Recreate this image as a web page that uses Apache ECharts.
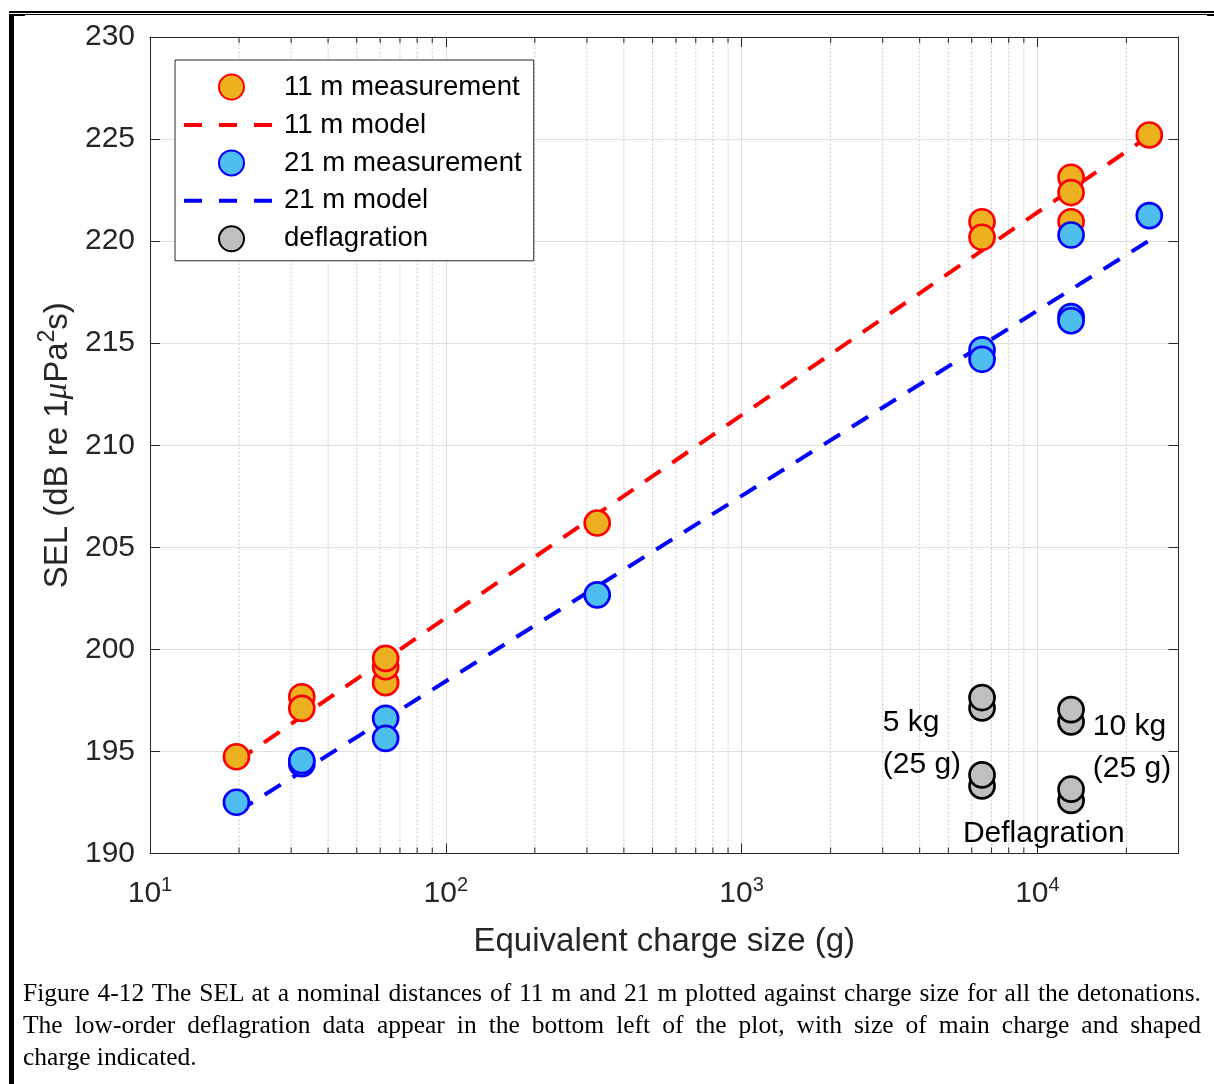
<!DOCTYPE html>
<html>
<head>
<meta charset="utf-8">
<script src="https://cdn.jsdelivr.net/npm/echarts@6/dist/echarts.min.js"></script>
<style>
  html, body { margin: 0; padding: 0; background: #fff; }
  #wrap { position: relative; width: 1214px; height: 1084px; overflow: hidden; background: #fff; }
  #chart { position: absolute; left: 0; top: 0; width: 1214px; height: 1084px; }
  .rule { position: absolute; background: #000; }
  #caption { position: absolute; left: 23px; top: 977px; width: 1178px;
    font-family: 'Liberation Serif', 'Times New Roman', serif; font-size: 25.5px;
    line-height: 32px; color: #000; }
  #caption div { text-align: justify; text-align-last: justify; }
  #caption div.last { text-align-last: left; }
</style>
</head>
<body>
<div id="wrap">
  <div id="chart"></div>
  <!-- page frame -->
  <div class="rule" style="left:9px;top:11px;width:1205px;height:2px;"></div>
  <div class="rule" style="left:9px;top:14px;width:1205px;height:1px;"></div>
  <div class="rule" style="left:9px;top:14px;width:5px;height:1070px;"></div>
  <div class="rule" style="left:14px;top:14px;width:11px;height:2px;"></div>
  <div class="rule" style="left:1207px;top:14px;width:7px;height:2px;"></div>
  <div id="caption">
    <div>Figure 4-12 The SEL at a nominal distances of 11 m and 21 m plotted against charge size for all the detonations.</div>
    <div>The low-order deflagration data appear in the bottom left of the plot, with size of main charge and shaped</div>
    <div class="last">charge indicated.</div>
  </div>
</div>
<script>
// Axis ranges
const X_MIN = 10, X_MAX = 30000;
const Y_MIN = 190, Y_MAX = 230, Y_STEP = 5;

// 11 m measurements: equivalent charge (g) and SEL (dB re 1 uPa^2 s)
const charge11 = [19.6, 32.6, 32.6, 62.6, 62.6, 62.6, 325, 6500, 6500, 13000, 13000, 13000, 23900];
const sel11    = [194.74, 197.68, 197.11, 198.37, 199.15, 199.56, 206.19, 220.95, 220.19, 220.95, 223.13, 222.38, 225.2];

// 21 m measurements
const charge21 = [19.6, 32.6, 32.6, 62.6, 62.6, 325, 6500, 6500, 13000, 13000, 13000, 23900];
const sel21    = [192.51, 194.4, 194.55, 196.62, 195.64, 202.67, 214.67, 214.21, 216.3, 216.1, 220.3, 221.25];

// Low-order deflagrations
const chargeDefl = [6500, 6500, 6500, 6500, 13000, 13000, 13000, 13000];
const selDefl    = [193.31, 193.85, 197.13, 197.64, 192.6, 193.15, 196.45, 197.05];

// Model lines (end points)
const modelCharge = [19.64, 23900];
const model11     = [194.52, 225.16];
const model21     = [192.02, 220.03];

// Minor log ticks (2..9 per decade)
const minorTicks = [20, 30, 40, 50, 60, 70, 80, 90,
                    200, 300, 400, 500, 600, 700, 800, 900,
                    2000, 3000, 4000, 5000, 6000, 7000, 8000, 9000,
                    20000];

// Text notes in data coordinates
const noteX    = [3000, 15400, 5600];
const noteY    = [195.36, 195.17, 190.95];
const noteText = ['5 kg\n(25 g)', '10 kg\n(25 g)', 'Deflagration'];

const legendNames = ['11 m measurement', '11 m model', '21 m measurement', '21 m model', 'deflagration'];

const FONT = "'Liberation Sans', Arial, Helvetica, sans-serif";
const AXIS = '#262626';
const GRID = '#DFDFDF';
const MINOR = '#C8C8C8';

function pairs(xs, ys) { return xs.map((x, i) => [x, ys[i]]); }

function logLabel(v) {
  const e = Math.round(Math.log10(v));
  if (Math.abs(Math.pow(10, e) - v) > 1e-6 * v) return '';
  return '{b|10}{s|' + e + '}';
}

const axisLine = { show: true, onZero: false, lineStyle: { color: AXIS, width: 1 } };
const axisTick = { show: true, inside: true, length: 10, lineStyle: { color: AXIS, width: 1 } };

const chart = echarts.init(document.getElementById('chart'), null, { renderer: 'canvas' });

const option = {
  animation: false,
  textStyle: { fontFamily: FONT },
  grid: { left: 150, right: 35.5, top: 37, bottom: 230.5 },
  legend: {
    data: [
      { name: legendNames[0] },
      { name: legendNames[1], itemStyle: { opacity: 0 }, lineStyle: { width: 4, type: [18, 17] } },
      { name: legendNames[2] },
      { name: legendNames[3], itemStyle: { opacity: 0 }, lineStyle: { width: 4, type: [18, 17] } },
      { name: legendNames[4] }
    ],
    orient: 'vertical',
    left: 175, top: 60,
    itemWidth: 95, itemHeight: 25, itemGap: 9.95,
    padding: [13, 12, 8, 7],
    backgroundColor: '#fff',
    borderColor: AXIS, borderWidth: 1, borderRadius: 0,
    textStyle: { fontSize: 27.6, color: '#000', fontFamily: FONT },
    selectedMode: false
  },
  xAxis: [
    {
      type: 'log', logBase: 10, min: X_MIN, max: X_MAX, position: 'bottom',
      axisLine: axisLine, axisTick: axisTick,
      axisLabel: {
        formatter: logLabel, margin: 22, color: AXIS,
        rich: {
          b: { fontSize: 30, fontFamily: FONT, color: AXIS },
          s: { fontSize: 20, fontFamily: FONT, color: AXIS, padding: [0, 0, 16, 0] }
        }
      },
      splitLine: { show: true, lineStyle: { color: GRID, width: 1 } },
      name: 'Equivalent charge size (g)', nameLocation: 'middle', nameGap: 72,
      nameTextStyle: { fontSize: 33, color: AXIS, fontFamily: FONT }
    },
    {
      type: 'log', logBase: 10, min: X_MIN, max: X_MAX, position: 'top',
      axisLine: axisLine, axisTick: axisTick,
      axisLabel: { show: false }, splitLine: { show: false }
    }
  ],
  yAxis: [
    {
      type: 'value', min: Y_MIN, max: Y_MAX, interval: Y_STEP, position: 'left',
      axisLine: axisLine, axisTick: axisTick,
      axisLabel: { fontSize: 30, color: AXIS, margin: 15, fontFamily: FONT },
      splitLine: { show: true, lineStyle: { color: GRID, width: 1 } },
      name: 'SEL (dB re 1{mu|\u03BC}Pa{sup|2}s)', nameLocation: 'middle', nameGap: 68,
      nameTextStyle: {
        fontSize: 33, color: AXIS, fontFamily: FONT,
        rich: {
          mu: { fontSize: 33, color: AXIS, fontFamily: "'Liberation Serif', serif", fontStyle: 'italic' },
          sup: { fontSize: 23, color: AXIS, fontFamily: FONT, padding: [0, 0, 20, 0] }
        }
      }
    },
    {
      type: 'value', min: Y_MIN, max: Y_MAX, interval: Y_STEP, position: 'right',
      axisLine: axisLine, axisTick: axisTick,
      axisLabel: { show: false }, splitLine: { show: false }
    }
  ],
  series: [
    {
      // minor log grid lines and minor tick marks
      type: 'custom', name: 'minor', xAxisIndex: 0, yAxisIndex: 0, z: 1, silent: true, clip: false,
      data: minorTicks.map(v => [v, Y_MIN]),
      encode: { x: 0, y: 1 },
      renderItem: function (params, api) {
        const x = api.value(0);
        const b = api.coord([x, Y_MIN]);
        const t = api.coord([x, Y_MAX]);
        return {
          type: 'group',
          children: [
            { type: 'line', shape: { x1: b[0], y1: b[1], x2: t[0], y2: t[1] },
              style: { stroke: MINOR, lineWidth: 1, lineDash: [2, 2] } },
            { type: 'line', shape: { x1: b[0], y1: b[1], x2: b[0], y2: b[1] - 6 },
              style: { stroke: AXIS, lineWidth: 1 } },
            { type: 'line', shape: { x1: t[0], y1: t[1], x2: t[0], y2: t[1] + 6 },
              style: { stroke: AXIS, lineWidth: 1 } }
          ]
        };
      }
    },
    {
      type: 'scatter', name: legendNames[0], data: pairs(charge11, sel11),
      symbol: 'circle', symbolSize: 25, z: 2,
      itemStyle: { color: '#EDB120', borderColor: '#FF0000', borderWidth: 2.7, opacity: 1 }
    },
    {
      type: 'line', name: legendNames[1], data: pairs(modelCharge, model11),
      symbol: 'none', showSymbol: false, z: 2,
      lineStyle: { color: '#FF0000', width: 4, type: [19, 14] },
      itemStyle: { color: '#FF0000' }
    },
    {
      type: 'scatter', name: legendNames[2], data: pairs(charge21, sel21),
      symbol: 'circle', symbolSize: 25, z: 2,
      itemStyle: { color: '#4DBEEE', borderColor: '#0000FF', borderWidth: 2.7, opacity: 1 }
    },
    {
      type: 'line', name: legendNames[3], data: pairs(modelCharge, model21),
      symbol: 'none', showSymbol: false, z: 2,
      lineStyle: { color: '#0000FF', width: 4, type: [19, 14] },
      itemStyle: { color: '#0000FF' }
    },
    {
      type: 'scatter', name: legendNames[4], data: pairs(chargeDefl, selDefl),
      symbol: 'circle', symbolSize: 25, z: 2,
      itemStyle: { color: '#BFBFBF', borderColor: '#000000', borderWidth: 2.7, opacity: 1 }
    },
    {
      type: 'scatter', name: 'notes', silent: true, z: 3,
      data: noteX.map((x, i) => [x, noteY[i], noteText[i]]),
      symbolSize: 0,
      itemStyle: { opacity: 1 },
      label: {
        show: true, position: 'right', distance: 0,
        formatter: p => p.data[2],
        fontSize: 30, lineHeight: 42, color: '#000', opacity: 1, fontFamily: FONT
      }
    }
  ]
};

chart.setOption(option);
</script>
</body>
</html>
